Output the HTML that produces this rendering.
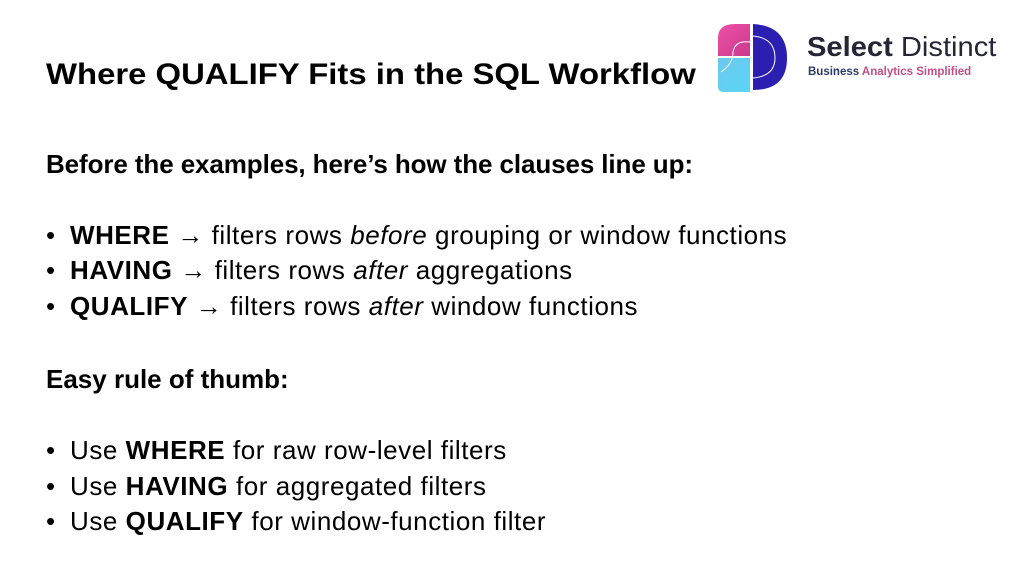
<!DOCTYPE html>
<html><head><meta charset="utf-8"><style>
body{margin:0;width:1024px;height:576px;background:#fff;position:relative;overflow:hidden;font-family:"Liberation Sans",sans-serif;color:#000}
.t{position:absolute;left:46px;white-space:nowrap;transform-origin:0 50%}
.h{font-weight:bold;font-size:30px;top:58px;transform:scaleX(1.095)}
.l{font-size:26px;line-height:30px}
.i{left:70px;letter-spacing:0.55px}
.dot{position:absolute;left:-24px}
</style></head><body>
<div class="t h">Where QUALIFY Fits in the SQL Workflow</div>
<div class="t l" style="top:149px;font-weight:bold;letter-spacing:-0.1px">Before the examples, here’s how the clauses line up:</div>
<div class="t l i" style="top:220px"><span class="dot">•</span><b>WHERE</b> → filters rows <i>before</i> grouping or window functions</div>
<div class="t l i" style="top:255px"><span class="dot">•</span><b>HAVING</b> → filters rows <i>after</i> aggregations</div>
<div class="t l i" style="top:291px"><span class="dot">•</span><b>QUALIFY</b> → filters rows <i>after</i> window functions</div>
<div class="t l" style="top:364px;font-weight:bold">Easy rule of thumb:</div>
<div class="t l i" style="top:435px"><span class="dot">•</span>Use <b>WHERE</b> for raw row-level filters</div>
<div class="t l i" style="top:471px"><span class="dot">•</span>Use <b>HAVING</b> for aggregated filters</div>
<div class="t l i" style="top:506px"><span class="dot">•</span>Use <b>QUALIFY</b> for window-function filter</div>
<svg style="position:absolute;left:715px;top:22px" width="75" height="72">
<defs>
<linearGradient id="p" x1="0" y1="0" x2="1" y2="1"><stop offset="0" stop-color="#f04fa6"/><stop offset="1" stop-color="#c83a8e"/></linearGradient>
<linearGradient id="c" x1="0" y1="0" x2="1" y2="1"><stop offset="0" stop-color="#6cc8ee"/><stop offset="1" stop-color="#5ad6f5"/></linearGradient>
</defs>
<path d="M3 34 L3 16 Q3 2 20 2 L35 2 L35 34 Z" fill="url(#p)"/>
<path d="M3 36 L35 36 L35 70 L8 70 Q3 70 3 64 Z" fill="url(#c)"/>
<path d="M38 2 Q72 4 72 36 Q72 68 38 68 Z" fill="#2a1fb0"/>
<path d="M38 14 Q60 16 60 36 Q60 54 38 56" fill="none" stroke="#fff" stroke-width="1"/>
<path d="M35 20 Q20 18 18 30 Q18 42 6 50" fill="none" stroke="#fff" stroke-width="1"/>
</svg>
<div style="position:absolute;left:807px;top:31px;font-size:28px;font-weight:bold;color:#252536;letter-spacing:0px;white-space:nowrap;transform:scaleX(1.04);transform-origin:0 0">Select <span style="font-weight:normal">Distinct</span></div>
<div style="position:absolute;left:808px;top:66px;font-size:11.5px;font-weight:bold;white-space:nowrap;color:#2e3a6e">Business <span style="color:#c44e88">Analytics Simplified</span></div>
</body></html>
